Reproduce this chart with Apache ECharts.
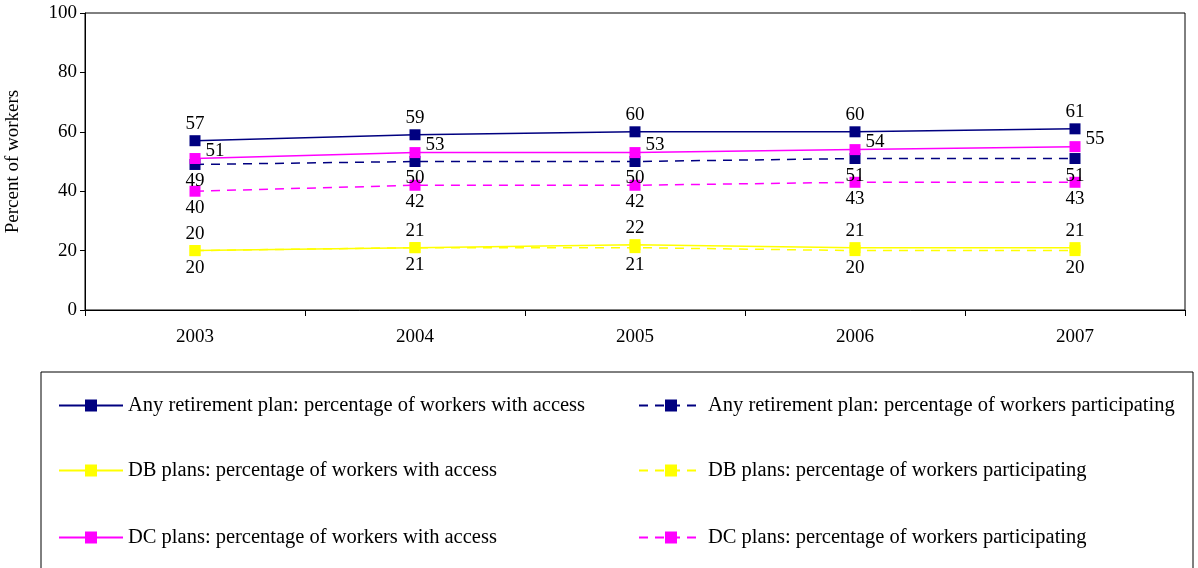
<!DOCTYPE html>
<html><head><meta charset="utf-8">
<script src="https://cdn.jsdelivr.net/npm/echarts@6/dist/echarts.min.js"></script>
<style>html,body{margin:0;padding:0;background:#fff}#main{width:1198px;height:568px}</style>
</head><body><div id="main"></div>
<script>
var years=['2003','2004','2005','2006','2007'];
var anyAccess=[57,59,60,60,61];
var anyPart=[49,50,50,51,51];
var dbAccess=[20,21,22,21,21];
var dbPart=[20,21,21,20,20];
var dcAccess=[51,53,53,54,55];
var dcPart=[40,42,42,43,43];
var names=['Any retirement plan: percentage of workers with access','Any retirement plan: percentage of workers participating',
 'DB plans: percentage of workers with access','DB plans: percentage of workers participating',
 'DC plans: percentage of workers with access','DC plans: percentage of workers participating'];
var F='Liberation Serif';
function mk(name,data,color,dashed,labelPos){
  return {name:name,type:'line',data:data,symbol:'rect',symbolSize:11,color:color,
    lineStyle:{color:color,width:1.5,type:dashed?[9,7]:'solid'},itemStyle:{color:color},
    label:{show:true,position:labelPos,color:'#000',fontFamily:F,fontSize:19,distance:2},
    animation:false};
}
var myChart=echarts.init(document.getElementById('main'));
var legends=[];
var pos=[[58,395],[638,395],[58,460],[638,460],[58,527],[638,527]];
for(var i=0;i<6;i++){
  legends.push({data:[names[i]],left:pos[i][0],top:pos[i][1],itemWidth:64,itemHeight:15,itemGap:5,padding:0,
    textStyle:{fontFamily:F,fontSize:20.5,color:'#000'}});
}
option={
  grid:{left:85,right:13,top:13,height:297,show:true,borderColor:'#000',borderWidth:1,outerBoundsMode:'none'},
  legend:legends,
  graphic:[{type:'rect',shape:{x:41,y:372,width:1152,height:200},style:{fill:'none',stroke:'#000',lineWidth:1}}],
  xAxis:{type:'category',data:years,boundaryGap:true,
    axisLine:{lineStyle:{color:'#000'}},axisTick:{show:true,length:6,lineStyle:{color:'#000'}},
    axisLabel:{fontFamily:F,fontSize:19,color:'#000',margin:18}},
  yAxis:{type:'value',min:0,max:100,interval:20,name:'Percent of workers',nameLocation:'middle',nameGap:62,
    nameTextStyle:{fontFamily:F,fontSize:19,color:'#000'},
    axisLine:{show:true,lineStyle:{color:'#000'}},axisTick:{show:true,length:5,lineStyle:{color:'#000'}},
    splitLine:{show:false},axisLabel:{fontFamily:F,fontSize:19,color:'#000'}},
  series:[
    mk(names[0],anyAccess,'#000080',false,'top'),
    mk(names[1],anyPart,'#000080',true,'bottom'),
    mk(names[2],dbAccess,'#ffff00',false,'top'),
    mk(names[3],dbPart,'#ffff00',true,'bottom'),
    mk(names[4],dcAccess,'#ff00ff',false,[16,-12]),
    mk(names[5],dcPart,'#ff00ff',true,'bottom')
  ]
};
myChart.setOption(option);
</script></body></html>
